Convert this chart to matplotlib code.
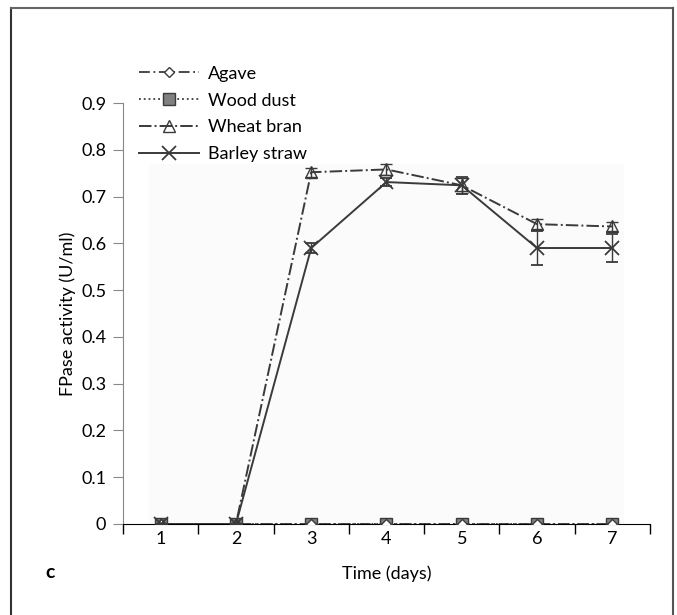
import matplotlib.pyplot as plt
from matplotlib.lines import Line2D

plt.rcParams['font.family'] = ['Lato', 'DejaVu Sans']

days = [1, 2, 3, 4, 5, 6, 7]
agave = [0, 0, 0, 0, 0, 0, 0]
wood_dust = [0, 0, 0, 0, 0, 0, 0]
wheat_bran = [0, 0, 0.752, 0.758, 0.724, 0.641, 0.636]
wheat_err = [0, 0, 0.01, 0.012, 0.016, 0.01, 0.01]
barley_straw = [0, 0, 0.59, 0.731, 0.724, 0.59, 0.59]
barley_err = [0, 0, 0.01, 0.008, 0.018, 0.037, 0.03]

dark = '#3a3a3a'

fig = plt.figure(figsize=(6.77, 6.15), dpi=100)
ax = fig.add_axes([0.1817, 0.148, 0.7783, 0.6845])

# faint plot area like the original
ax.axvspan(0.85, 7.15, ymax=0.77 / 0.9, color='#fbfbfb', zorder=0, lw=0)

agave_style = dict(color=dark, marker='D', mfc='white', ms=5, lw=1.3, dashes=(6, 2, 1, 2))
wood_style = dict(color=dark, marker='s', mfc='#808080', ms=8, lw=1.3, linestyle=':')
wheat_style = dict(color=dark, marker='^', mfc='none', ms=8, lw=1.4, linestyle='-.')
barley_style = dict(color=dark, marker='x', ms=10, mew=1.3, lw=1.4, linestyle='-')

ax.plot(days, wood_dust, zorder=3, **wood_style)
ax.plot(days, agave, zorder=3, **agave_style)
ax.errorbar(days, wheat_bran, yerr=wheat_err, capsize=4, elinewidth=1, zorder=4, **wheat_style)
ax.errorbar(days, barley_straw, yerr=barley_err, capsize=4, elinewidth=1, zorder=5, **barley_style)

ax.set_xlim(0.5, 7.5)
ax.set_ylim(0, 0.9)
ax.set_xticks(days)
ax.set_xticks([d + 0.5 for d in [0] + days], minor=True)
ax.tick_params(axis='x', which='major', length=0, labelsize=13, pad=5)
ax.tick_params(axis='x', which='minor', length=7, direction='out', width=1, color='black')
ax.set_yticks([i / 10 for i in range(10)])
ax.set_yticklabels(['0'] + [f'{i / 10:.1f}' for i in range(1, 10)])
ax.tick_params(axis='y', length=7, direction='out', labelsize=13, color='#888888', pad=5)

for s in ['top', 'right']:
    ax.spines[s].set_visible(False)
ax.spines['left'].set_color('#888888')
ax.spines['bottom'].set_color('black')
ax.patch.set_alpha(0)

ax.set_xlabel('Time (days)', fontsize=13, labelpad=13)
ax.set_ylabel('FPase activity (U/ml)', fontsize=13, labelpad=4)

handles = [Line2D([], [], **agave_style), Line2D([], [], **wood_style),
           Line2D([], [], **wheat_style), Line2D([], [], **barley_style)]
labels = ['Agave', 'Wood dust', 'Wheat bran', 'Barley straw']
ax.legend(handles, labels, loc='upper left', bbox_to_anchor=(0.0, 1.127), frameon=False,
          fontsize=13, handlelength=3.3, labelspacing=0.6, handletextpad=0.5)

fig.text(45 / 677, 1 - 572 / 615, 'c', fontsize=14, fontweight='bold', va='center')

# frame around the panel
fig.add_artist(Line2D([11 / 677, 11 / 677], [0, 1 - 8 / 615], color='#333333', lw=1.5))
fig.add_artist(Line2D([11 / 677, 673 / 677], [1 - 8 / 615, 1 - 8 / 615], color='#666666', lw=1.5))
fig.add_artist(Line2D([673 / 677, 673 / 677], [0, 1 - 8 / 615], color='#555555', lw=1.5))

fig.savefig('out.png', dpi=100)
